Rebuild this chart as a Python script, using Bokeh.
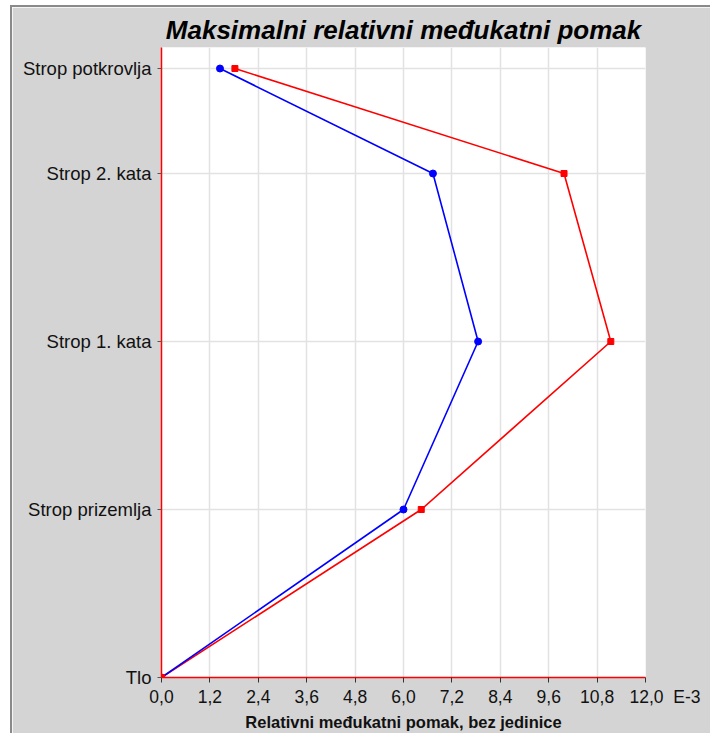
from bokeh.plotting import figure
from bokeh.models import FixedTicker, Range1d
from bokeh.embed import file_html
from bokeh.resources import INLINE

# Storey levels (height, m) and labels
level_heights = [0.0, 3.2, 6.4, 9.6, 11.6]
level_names = ["Tlo", "Strop prizemlja", "Strop 1. kata", "Strop 2. kata", "Strop potkrovlja"]

# Drift values (E-3)
drift_blue = [0.0, 6.0, 7.85, 6.73, 1.45]
drift_red = [0.0, 6.44, 11.14, 9.98, 1.82]

x_ticks = [0.0, 1.2, 2.4, 3.6, 4.8, 6.0, 7.2, 8.4, 9.6, 10.8, 12.0]
x_tick_labels = ["0,0", "1,2", "2,4", "3,6", "4,8", "6,0", "7,2", "8,4", "9,6", "10,8",
                 "\u00a0" * 8 + "12,0\u00a0\u00a0E-3"]

FONT = "Liberation Sans"
BG = "#d4d4d4"

p = figure(width=700, height=728, output_backend="svg", toolbar_location=None,
           x_range=Range1d(0, 12), y_range=Range1d(0, 12),
           min_border_left=149, min_border_right=67, min_border_top=40, min_border_bottom=58,
           title="Maksimalni relativni međukatni pomak")
p.styles = {"margin-left": "10px", "margin-top": "5px",
            "border-left": "2px solid #8a8a8a", "border-top": "2px solid #8a8a8a"}

p.background_fill_color = "white"
p.border_fill_color = BG
p.outline_line_color = None

p.title.text_font = FONT
p.title.text_font_size = "26px"
p.title.text_font_style = "bold italic"
p.title.align = "center"
p.title.vertical_align = "middle"
p.title.text_color = "black"
p.title.standoff = 4

# x axis
xa = p.xaxis[0]
xa.ticker = FixedTicker(ticks=x_ticks)
xa.major_label_overrides = {t: l for t, l in zip(x_ticks, x_tick_labels)}
xa.axis_line_color = "red"
xa.axis_line_width = 1.5
xa.major_tick_line_color = "#333333"
xa.major_tick_out = 5
xa.major_tick_in = 0
xa.minor_tick_line_color = None
xa.major_label_text_font = FONT
xa.major_label_text_font_size = "17.5px"
xa.major_label_text_color = "#111111"
xa.major_label_standoff = 4
xa.axis_label = "Relativni međukatni pomak, bez jedinice"
xa.axis_label_text_font = FONT
xa.axis_label_text_font_size = "16.5px"
xa.axis_label_text_font_style = "bold"
xa.axis_label_text_color = "#111111"
xa.axis_label_standoff = 3

# y axis
ya = p.yaxis[0]
ya.ticker = FixedTicker(ticks=level_heights)
ya.major_label_overrides = {h: n for h, n in zip(level_heights, level_names)}
ya.axis_line_color = "red"
ya.axis_line_width = 1.5
ya.major_tick_line_color = "#555555"
ya.major_tick_out = 4
ya.major_tick_in = 0
ya.minor_tick_line_color = None
ya.major_label_text_font = FONT
ya.major_label_text_font_size = "18.5px"
ya.major_label_text_color = "#111111"
ya.major_label_standoff = 6

p.xgrid.ticker = FixedTicker(ticks=x_ticks)
p.ygrid.ticker = FixedTicker(ticks=level_heights)
p.grid.grid_line_color = "#e2e2e2"
p.grid.grid_line_width = 1.5

p.line(drift_red, level_heights, line_color="red", line_width=1.6)
p.scatter(drift_red, level_heights, marker="square", size=6, fill_color="red", line_color="red")
p.line(drift_blue, level_heights, line_color="blue", line_width=1.6)
p.scatter(drift_blue, level_heights, marker="circle", size=7, fill_color="blue", line_color="blue")
p.scatter(drift_red[:1], level_heights[:1], marker="square", size=6, fill_color="red", line_color="red")

open("out.html", "w").write(file_html(p, INLINE))
